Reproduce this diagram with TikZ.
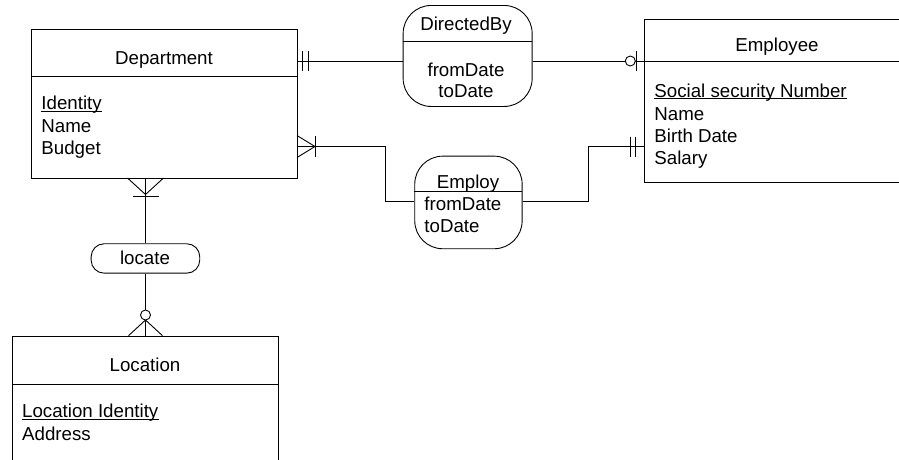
\documentclass[tikz,border=0pt]{standalone}
\usepackage{fontspec}
\setmainfont{Liberation Sans}
\begin{document}
\begin{tikzpicture}[x=1pt,y=-1pt,
  line width=0.9pt,
  entity/.style={draw, line width=0.9pt, inner sep=0pt, anchor=north west},
  relation/.style={draw, line width=0.9pt, inner sep=0pt, anchor=north west, rounded corners=28pt},
  pill/.style={draw, line width=0.9pt, inner sep=0pt, anchor=north west, rounded corners=13pt},
  txt/.style={inner sep=0pt, anchor=base, font=\fontsize{18.7}{22}\selectfont},
  attr/.style={txt, anchor=base west},
  uline/.style={line width=0.8pt},
  tick/.style={line width=0.9pt},
  ring/.style={draw, fill=white, line width=0.9pt, circle, inner sep=0pt, minimum size=10pt}
]
\useasboundingbox (0,0) rectangle (899,459);
\clip (0,0) rectangle (899,459);

% ---------- entities ----------
\node[entity, minimum width=266pt, minimum height=149pt] (dept) at (31,29) {};
\draw (31,76) -- (297,76);
\node[txt] (deptT) at (164,64) {Department};
\node[attr] (deptA1) at (41,109.5) {Identity};
\node[attr] (deptA2) at (41,132) {Name};
\node[attr] (deptA3) at (41,154.5) {Budget};
\draw[uline] ([yshift=-1.6pt]deptA1.base west) -- ([yshift=-1.6pt]deptA1.base east);

\node[entity, minimum width=266pt, minimum height=163pt] (emp) at (644,19.3) {};
\draw (644,61) -- (910,61);
\node[txt] (empT) at (777,51.5) {Employee};
\node[attr] (empA1) at (654,97) {Social security Number};
\node[attr] (empA2) at (654,120) {Name};
\node[attr] (empA3) at (654,142.5) {Birth Date};
\node[attr] (empA4) at (654,164.5) {Salary};
\draw[uline] ([yshift=-1.6pt]empA1.base west) -- ([yshift=-1.6pt]empA1.base east);

\node[entity, minimum width=266.3pt, minimum height=140pt] (loc) at (12,335.7) {};
\draw (12,384) -- (278.3,384);
\node[txt] (locT) at (145,371.5) {Location};
\node[attr] (locA1) at (21.7,417.5) {Location Identity};
\node[attr] (locA2) at (21.7,440) {Address};
\draw[uline] ([yshift=-1.6pt]locA1.base west) -- ([yshift=-1.6pt]locA1.base east);

% ---------- relationships ----------
\node[relation, minimum width=129pt, minimum height=101pt] (dirby) at (402.7,5) {};
\draw (402.7,41) -- (531.7,41);
\node[txt] (dirbyT) at (466,30) {DirectedBy};
\node[txt] (dirbyA1) at (466,76.7) {fromDate};
\node[txt] (dirbyA2) at (466,97.5) {toDate};

\node[relation, minimum width=107.4pt, minimum height=92.6pt] (employ) at (414.3,155.7) {};
\draw (414.3,191) -- (521.7,191);
\node[txt] (employT) at (468,188.5) {Employ};
\node[attr] (employA1) at (424,210) {fromDate};
\node[attr] (employA2) at (424,232.5) {toDate};

\node[pill, minimum width=108.6pt, minimum height=29.4pt] (locate) at (90.7,243.3) {};
\node[txt] (locateT) at (145,264) {locate};

% ---------- connectors ----------
% Department -- DirectedBy -- Employee
\coordinate (dirbyIn) at (dirby.west |- 0,61);
\coordinate (dirbyOut) at (dirby.east |- 0,61);
\draw (dept.east |- dirbyIn) -- (dirbyIn);
\draw (dirbyOut) -- (emp.west |- dirbyOut);
\draw[tick] (302,51) -- (302,71) (308,51) -- (308,71);
\draw[tick] (636,51) -- (636,71);
\node[ring] (dirbyRing) at (630.3,61) {};

% Department -- Employ -- Employee
\coordinate (employIn) at (employ.west |- 0,201);
\coordinate (employOut) at (employ.east |- 0,201);
\draw (dept.east |- 0,146.5) -- (385,146.5) -- (385,201) -- (employIn);
\draw (employOut) -- (588.3,201) -- (588.3,146.5) -- (emp.west |- 0,146.5);
\draw[tick] (297,135.5) -- (315,146.5) -- (297,157.5);
\draw[tick] (315,136) -- (315,157);
\draw[tick] (630,136.5) -- (630,156.5) (635,136.5) -- (635,156.5);

% Department -- locate -- Location
\draw (dept.south -| locate.north) -- (locate.north);
\draw[tick] (127.5,178) -- (145.5,194.5) -- (163.5,178);
\draw[tick] (133,196) -- (159,196);
\draw (locate.south) -- (loc.north -| locate.south);
\draw[tick] (128.5,335.7) -- (145.5,320) -- (162.5,335.7);
\node[ring] (locRing) at (145.5,315) {};
\end{tikzpicture}
\end{document}
